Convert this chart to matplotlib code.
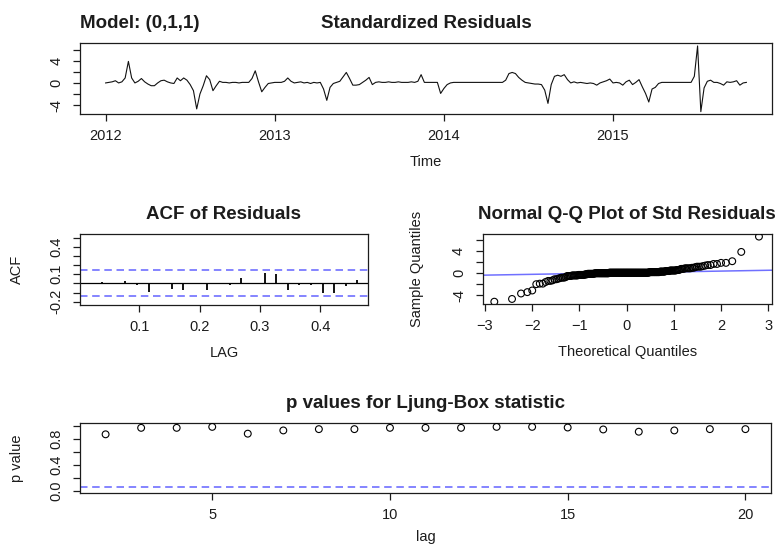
import numpy as np
import matplotlib
matplotlib.use("Agg")
import matplotlib.pyplot as plt
from statistics import NormalDist

plt.rcParams['font.family'] = ['Liberation Sans', 'DejaVu Sans']

# ---- standardized residuals of the (0,1,1) fit, weekly from 2012 ----
start_year = 2012
freq = 52
resid = [
    0.0, 0.1, 0.2, 0.4, 0.0, 0.2, 0.9, 3.9, 0.9, 0.0,
    0.3, 0.8, 0.2, -0.2, -0.5, -0.5, 0.0, 0.4, 0.5, 0.2,
    0.0, -0.1, 0.9, 0.4, 0.9, 0.5, -0.3, -1.4, -4.7, -2.0,
    -0.5, 1.3, 0.6, -1.4, -0.5, 0.3, 0.1, 0.1, 0.0, 0.1,
    0.1, 0.0, 0.1, 0.1, 0.1, 0.8, 2.2, 0.2, -1.6, -0.8,
    -0.1, 0.0, 0.1, 0.1, 0.1, 0.3, 0.9, 0.3, 0.0, 0.1,
    0.2, 0.0, 0.1, -0.1, 0.1, 0.0, 0.1, -1.1, -3.15, -0.8,
    -0.1, 0.1, 0.3, 1.1, 1.9, 0.8, -0.4, -0.4, -0.3, 0.1,
    0.5, 1.0, -0.3, 0.1, 0.2, 0.1, 0.1, 0.2, 0.1, 0.1,
    0.2, 0.1, 0.1, 0.1, 0.2, 0.1, 0.3, 1.5, 0.1, 0.1,
    0.1, 0.1, 0.1, -1.9, -1.0, -0.3, 0.0, 0.1, 0.1, 0.1,
    0.1, 0.1, 0.1, 0.1, 0.1, 0.1, 0.1, 0.1, 0.1, 0.1,
    0.1, 0.1, 0.1, 0.5, 1.7, 1.9, 1.7, 1.0, 0.5, 0.1,
    0.0, -0.1, -0.2, -0.2, -0.3, -1.3, -3.7, -0.3, 1.2, 1.4,
    1.2, 1.5, 0.6, 0.0, 0.2, 0.0, 0.1, 0.0, -0.1, 0.0,
    -0.1, -0.4, 0.0, 0.2, 0.4, 0.7, 0.0, 0.1, 0.0, -0.4,
    0.2, 0.5, -0.3, 0.1, 0.6, -0.7, -1.9, -3.45, -1.1, -0.8,
    -0.1, 0.1, 0.1, 0.1, 0.1, 0.1, 0.1, 0.1, 0.1, 0.1,
    0.1, 1.2, 6.7, -5.2, -0.9, 0.3, 0.5, 0.1, 0.1, -0.1,
    -0.4, 0.2, 0.1, 0.2, 0.4, -0.4, 0.0, 0.1,
]

# sample ACF of the residuals, lags 1..24 (in years)
acf_vals = [0.00, 0.02, -0.01, 0.03, -0.02, -0.09, -0.01, -0.06, -0.07, -0.01,
            -0.07, 0.00, -0.02, 0.06, 0.00, 0.11, 0.10, -0.07, -0.02, -0.02,
            -0.10, -0.10, -0.03, 0.04]

# Ljung-Box p-values
lb_lags = list(range(2, 21))
lb_pvals = [0.87, 0.97, 0.97, 0.985, 0.88, 0.93, 0.95, 0.95, 0.97, 0.97,
            0.97, 0.985, 0.985, 0.975, 0.945, 0.91, 0.93, 0.95, 0.95]

model_label = "Model: (0,1,1)"

n = len(resid)
tt = start_year + np.arange(n) / freq
blue = '#7070ff'
ink = '#1c1c1c'

W, H = 778, 545
fig = plt.figure(figsize=(W / 100, H / 100), dpi=100)


def box(l, t, r, b):
    return [l / W, 1 - b / H, (r - l) / W, (b - t) / H]


def style(ax):
    for s in ax.spines.values():
        s.set_linewidth(0.9)
        s.set_color(ink)
    ax.tick_params(direction='out', length=5, width=0.9, labelsize=10.5,
                   colors=ink)
    ax.tick_params(axis='x', pad=5.5)
    ax.tick_params(axis='y', labelrotation=90, pad=7)
    for lab in ax.get_yticklabels():
        lab.set_va('center')


def ylabels(ax, ticks, shown, fmt):
    ax.set_yticks(ticks)
    ax.set_yticklabels([fmt(v) if any(abs(v - s) < 1e-9 for s in shown) else ''
                        for v in ticks])


title_kw = dict(fontsize=13.5, fontweight='bold', color=ink, pad=11)
lab_kw = dict(fontsize=10.5, color=ink)

# ---- standardized residuals ----
ax1 = fig.add_axes(box(80, 43.3, 772, 114.3))
ax1.plot(tt, resid, color='#111111', lw=0.8)
ax1.margins(x=0.04, y=0.04)
ax1.set_xticks([2012, 2013, 2014, 2015])
ylabels(ax1, [-4, -2, 0, 2, 4, 6], [-4, 0, 4], lambda v: f"{v:g}")
style(ax1)
ax1.set_title("Standardized Residuals", **title_kw)
ax1.set_title(model_label, loc='left', **title_kw)
ax1.set_xlabel("Time", labelpad=9, **lab_kw)

# ---- ACF of residuals ----
ax2 = fig.add_axes(box(80, 234, 368, 305))
lags = np.arange(1, len(acf_vals) + 1) / freq
ax2.vlines(lags, 0, acf_vals, color='k', lw=1.3)
ax2.axhline(0, color='k', lw=0.9)
U = 2 / np.sqrt(n)
for h in (U, -U):
    ax2.axhline(h, color=blue, lw=1.2, ls=(0, (4.5, 2.8)))
ax2.margins(x=0.04)
ax2.set_ylim(-0.2 - 0.036, 0.5 + 0.04)
ax2.set_xticks([0.1, 0.2, 0.3, 0.4])
ylabels(ax2, [-0.2, -0.1, 0.0, 0.1, 0.2, 0.3, 0.4, 0.5], [-0.2, 0.1, 0.4],
        lambda v: f"{v:.1f}")
style(ax2)
ax2.set_title("ACF of Residuals", **title_kw)
ax2.set_xlabel("LAG", labelpad=9, **lab_kw)
ax2.set_ylabel("ACF", labelpad=18, **lab_kw)

# ---- normal Q-Q plot ----
ax3 = fig.add_axes(box(482.7, 234, 772, 304.3))
nd = NormalDist()
srt = np.sort(resid)
theo = np.array([nd.inv_cdf((i - 0.5) / n) for i in range(1, n + 1)])
ax3.scatter(theo, srt, s=24, facecolors='none', edgecolors='k', linewidths=0.8,
            zorder=3)
q1, q3 = np.quantile(resid, [0.25, 0.75])
z1, z3 = nd.inv_cdf(0.25), nd.inv_cdf(0.75)
slope = (q3 - q1) / (z3 - z1)
ax3.axline((0, q1 - slope * z1), slope=slope, color=blue, lw=1.1)
ax3.set_xlim(-3.05, 3.08)
ax3.margins(y=0.04)
ax3.set_xticks(range(-3, 4))
ylabels(ax3, [-4, -2, 0, 2, 4, 6], [-4, 0, 4], lambda v: f"{v:g}")
style(ax3)
ax3.set_title("Normal Q-Q Plot of Std Residuals", **title_kw)
ax3.set_xlabel("Theoretical Quantiles", labelpad=9, **lab_kw)
ax3.set_ylabel("Sample Quantiles", labelpad=20, **lab_kw)

# ---- Ljung-Box p-values ----
ax4 = fig.add_axes(box(80, 423.3, 771, 493.3))
ax4.scatter(lb_lags, lb_pvals, s=24, facecolors='none', edgecolors='k',
            linewidths=0.8, zorder=3)
ax4.axhline(0.05, color=blue, lw=1.2, ls=(0, (4.5, 2.8)))
ax4.margins(x=0.04)
ax4.set_ylim(-0.04, 1.04)
ax4.set_xticks([5, 10, 15, 20])
ylabels(ax4, [0, 0.2, 0.4, 0.6, 0.8, 1.0], [0, 0.4, 0.8], lambda v: f"{v:.1f}")
style(ax4)
ax4.set_title("p values for Ljung-Box statistic", **title_kw)
ax4.set_xlabel("lag", labelpad=6, **lab_kw)
ax4.set_ylabel("p value", labelpad=18, **lab_kw)

fig.savefig("out.png", dpi=100)
